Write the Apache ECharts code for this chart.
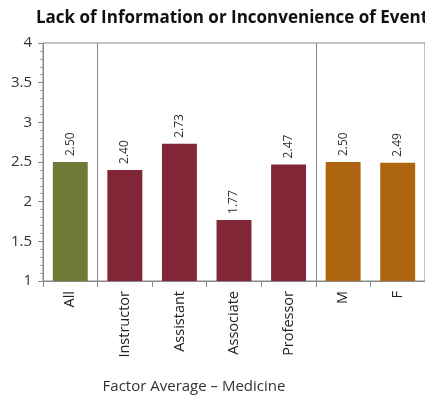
<!DOCTYPE html>
<html><head><meta charset="utf-8">
<script src="https://cdn.jsdelivr.net/npm/echarts@6/dist/echarts.min.js"></script>
<style>html,body{margin:0;padding:0;background:#fff}#c{width:425px;height:402px}</style>
</head><body><div id="c"></div>
<script>
var categories = ["All","Instructor","Assistant","Associate","Professor","M","F"];
var values = [2.50, 2.40, 2.73, 1.77, 2.47, 2.50, 2.49];
var groups = ["all","rank","rank","rank","rank","gender","gender"];
var groupColors = {all:"#6e7a35", rank:"#812636", gender:"#ad660f"};
var yTicks = [1, 1.5, 2, 2.5, 3, 3.5, 4];
var separators = [1, 5];

var chart = echarts.init(document.getElementById('c'));
chart.setOption({
  animation:false,
  title:{text:"Lack of Information or Inconvenience of Events", left:31, top:5,
    textStyle:{fontFamily:"Open Sans", fontWeight:"bold", fontSize:17, color:"#111"}},
  grid:{left:43, top:43, right:-2, bottom:121, show:true, borderColor:"#888", borderWidth:1},
  xAxis:{type:"category", data:categories,
    name:"Factor Average \u2013 Medicine", nameLocation:"middle", nameGap:98,
    nameTextStyle:{fontFamily:"Open Sans", fontSize:15, color:"#333", padding:[0,80,0,0]},
    axisLine:{lineStyle:{color:"#888"}},
    axisTick:{show:true, length:6, lineStyle:{color:"#888"}},
    axisLabel:{rotate:90, margin:10, fontFamily:"Open Sans", fontSize:14.5, color:"#222"},
    splitLine:{show:true, interval:function(i){return separators.indexOf(i)>=0;}, lineStyle:{color:"#888", width:1}}
  },
  yAxis:{type:"value", min:yTicks[0], max:yTicks[yTicks.length-1], interval:0.5,
    axisLine:{show:true, lineStyle:{color:"#888"}},
    axisTick:{show:true, length:5, lineStyle:{color:"#888"}},
    minorTick:{show:true, splitNumber:5, length:3, lineStyle:{color:"#999"}},
    splitLine:{show:false},
    axisLabel:{margin:11, fontFamily:"Open Sans", fontSize:15, color:"#333"}
  },
  series:[{type:"bar", barWidth:"64%",
    data:values.map(function(v,i){return {value:v, itemStyle:{color:groupColors[groups[i]]}};}),
    label:{show:true, position:"top", rotate:90, align:"left", verticalAlign:"middle", distance:6,
      formatter:function(p){return p.value.toFixed(2);},
      fontFamily:"Open Sans", fontSize:12, color:"#333"}
  }]
});
</script></body></html>
